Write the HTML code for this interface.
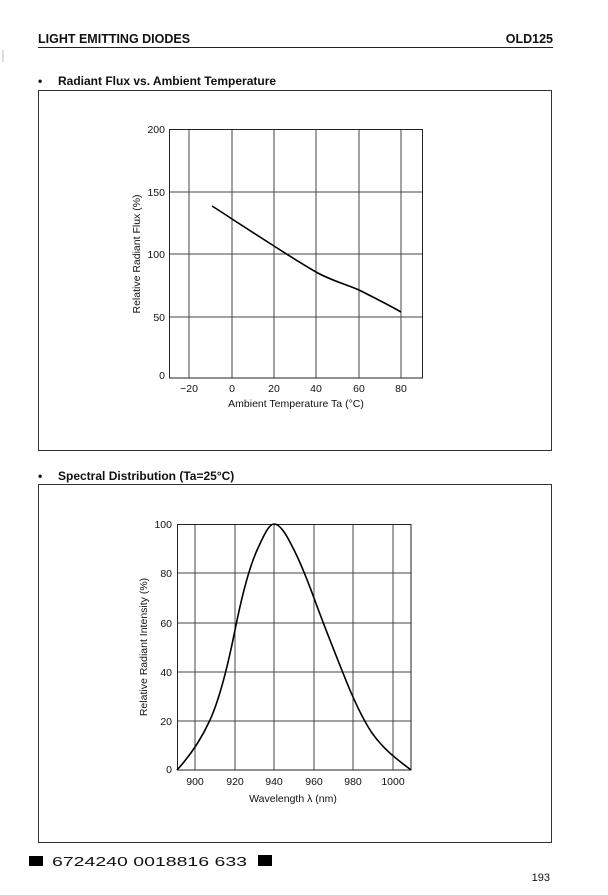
<!DOCTYPE html>
<html><head><meta charset="utf-8"><style>
html,body{margin:0;padding:0;background:#fff;}
svg{display:block;}
text{font-family:"Liberation Sans",sans-serif;fill:#111;}
</style></head><body>
<svg width="608" height="895" viewBox="0 0 608 895" xmlns="http://www.w3.org/2000/svg">
<rect width="608" height="895" fill="#fff"/>
<text x="38" y="43" font-size="12.5" font-weight="bold">LIGHT EMITTING DIODES</text>
<text x="553" y="43" font-size="12.5" font-weight="bold" text-anchor="end">OLD125</text>
<line x1="38" y1="47.5" x2="553" y2="47.5" stroke="#222" stroke-width="1"/>
<line x1="3" y1="50" x2="3" y2="62" stroke="#bbb" stroke-width="1"/>

<text x="38" y="85" font-size="12" font-weight="bold">•</text>
<text x="58" y="85" font-size="12" font-weight="bold">Radiant Flux vs. Ambient Temperature</text>
<rect x="38.5" y="90.5" width="513" height="360" fill="none" stroke="#333" stroke-width="1"/>

<g stroke="#444" stroke-width="1">
<line x1="189" y1="129" x2="189" y2="378"/><line x1="232" y1="129" x2="232" y2="378"/>
<line x1="274" y1="129" x2="274" y2="378"/><line x1="316" y1="129" x2="316" y2="378"/>
<line x1="359" y1="129" x2="359" y2="378"/><line x1="401" y1="129" x2="401" y2="378"/>
<line x1="169" y1="192" x2="423" y2="192"/><line x1="169" y1="254" x2="423" y2="254"/>
<line x1="169" y1="317" x2="423" y2="317"/>
</g>
<rect x="169.5" y="129.5" width="253" height="248.5" fill="none" stroke="#222" stroke-width="1"/>
<path d="M212,206 C220,211 226,215 232,219 C246,228 260,237 274,246 C288,255 302,264 316,272 C330,280 345,284 359,290 C373,297 387,304 401,312" fill="none" stroke="#000" stroke-width="1.6"/>
<g font-size="10.5" text-anchor="end">
<text x="165" y="133">200</text><text x="165" y="196">150</text><text x="165" y="258">100</text>
<text x="165" y="321">50</text><text x="165" y="379">0</text>
</g>
<g font-size="10.5" text-anchor="middle">
<text x="189" y="392">−20</text><text x="232" y="392">0</text><text x="274" y="392">20</text>
<text x="316" y="392">40</text><text x="359" y="392">60</text><text x="401" y="392">80</text>
</g>
<text x="296" y="407" font-size="10.5" text-anchor="middle">Ambient Temperature  Ta (°C)</text>
<text transform="translate(140,254) rotate(-90)" font-size="10.5" text-anchor="middle">Relative Radiant Flux  (%)</text>

<text x="38" y="480" font-size="12" font-weight="bold">•</text>
<text x="58" y="480" font-size="12" font-weight="bold">Spectral Distribution  (Ta=25°C)</text>
<rect x="38.5" y="484.5" width="513" height="358" fill="none" stroke="#333" stroke-width="1"/>

<g stroke="#444" stroke-width="1">
<line x1="195" y1="524" x2="195" y2="770"/><line x1="235" y1="524" x2="235" y2="770"/>
<line x1="274" y1="524" x2="274" y2="770"/><line x1="314" y1="524" x2="314" y2="770"/>
<line x1="353" y1="524" x2="353" y2="770"/><line x1="393" y1="524" x2="393" y2="770"/>
<line x1="177" y1="573" x2="411" y2="573"/><line x1="177" y1="623" x2="411" y2="623"/>
<line x1="177" y1="672" x2="411" y2="672"/><line x1="177" y1="721" x2="411" y2="721"/>
</g>
<rect x="177.5" y="524.5" width="233.5" height="245.5" fill="none" stroke="#222" stroke-width="1"/>
<path d="M177,770 C189,757 200,742 210,720 C220,698 228,665 235,630 C242,595 250,565 258,548 C264,535 269,524 274,524 C280,524 286,534 292,546 C300,561 307,579 314,598 C322,620 333,648 343,673 C352,696 362,718 372,733 C384,750 398,760 411,770" fill="none" stroke="#000" stroke-width="1.6"/>
<g font-size="10.5" text-anchor="end">
<text x="172" y="528">100</text><text x="172" y="577">80</text><text x="172" y="627">60</text>
<text x="172" y="676">40</text><text x="172" y="725">20</text><text x="172" y="773">0</text>
</g>
<g font-size="10.5" text-anchor="middle">
<text x="195" y="785">900</text><text x="235" y="785">920</text><text x="274" y="785">940</text>
<text x="314" y="785">960</text><text x="353" y="785">980</text><text x="393" y="785">1000</text>
</g>
<text x="293" y="802" font-size="10.5" text-anchor="middle">Wavelength  λ  (nm)</text>
<text transform="translate(147,647) rotate(-90)" font-size="10.5" text-anchor="middle">Relative Radiant Intensity  (%)</text>

<rect x="29" y="856" width="14" height="10" fill="#000"/>
<text x="52" y="866" font-size="13" font-family="Liberation Mono" textLength="195" lengthAdjust="spacingAndGlyphs">6724240 0018816 633</text>
<rect x="258" y="855" width="14" height="11" fill="#000"/>
<text x="550" y="881" font-size="11" text-anchor="end" font-family="Liberation Serif">193</text>
</svg>
</body></html>
